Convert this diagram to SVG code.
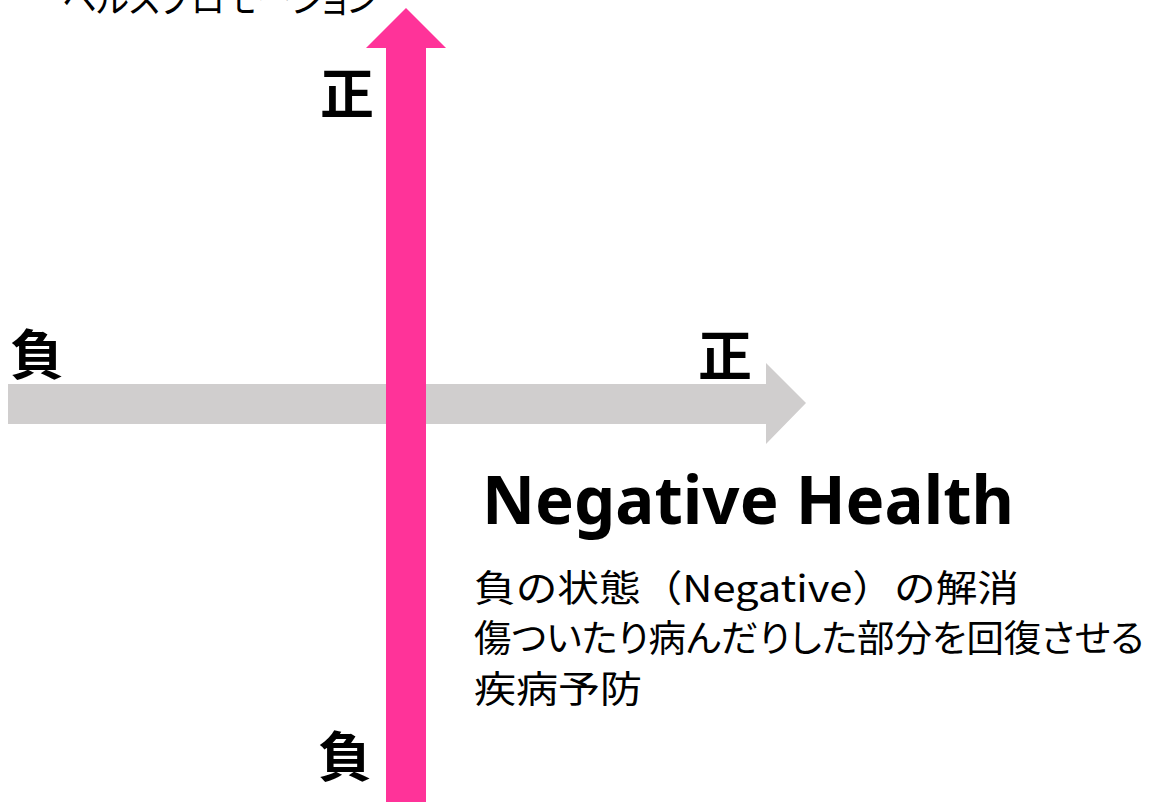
<svg xmlns="http://www.w3.org/2000/svg" width="1155" height="802" viewBox="0 0 1155 802">
<style>
.lbl{font-family:"Noto Sans CJK JP","Noto Sans",sans-serif;font-weight:bold;font-size:54px;fill:#000}
.body{font-family:"Noto Sans CJK JP","Noto Sans",sans-serif;font-size:37px;fill:#000;font-feature-settings:"palt"}
.full{font-feature-settings:normal}
.title{font-family:"Noto Sans","Noto Sans CJK JP",sans-serif;font-weight:bold;font-size:66px;fill:#000}
</style>
<rect width="1155" height="802" fill="#fff"/>
<g id="connectors">
<polygon id="x-axis" points="8,384 766,384 766,363 806,403 766,444 766,424 8,424" fill="#D0CECE"/>
<polygon id="y-axis" points="386,802 386,48 366,48 406,8 446,48 426,48 426,802" fill="#FF3399"/>
</g>
<g id="top-label"><text class="body" x="62" y="13" textLength="316" lengthAdjust="spacingAndGlyphs">ヘルスプロモーション</text></g>
<g id="y-pos"><text class="lbl" x="320" y="114">正</text></g>
<g id="y-neg"><text class="lbl" x="318" y="777">負</text></g>
<g id="x-neg"><text class="lbl" x="10" y="375">負</text></g>
<g id="x-pos"><text class="lbl" x="698" y="376">正</text></g>
<g id="negative-health">
<text class="title" x="482" y="524" textLength="532" lengthAdjust="spacingAndGlyphs">Negative Health</text>
<text class="body full" x="474" y="602" textLength="545" lengthAdjust="spacingAndGlyphs">負の状態（Negative）の解消</text>
<text class="body" x="474" y="652" textLength="670" lengthAdjust="spacingAndGlyphs">傷ついたり病んだりした部分を回復させる</text>
<text class="body" x="474" y="703" textLength="168" lengthAdjust="spacingAndGlyphs">疾病予防</text>
</g>
</svg>
